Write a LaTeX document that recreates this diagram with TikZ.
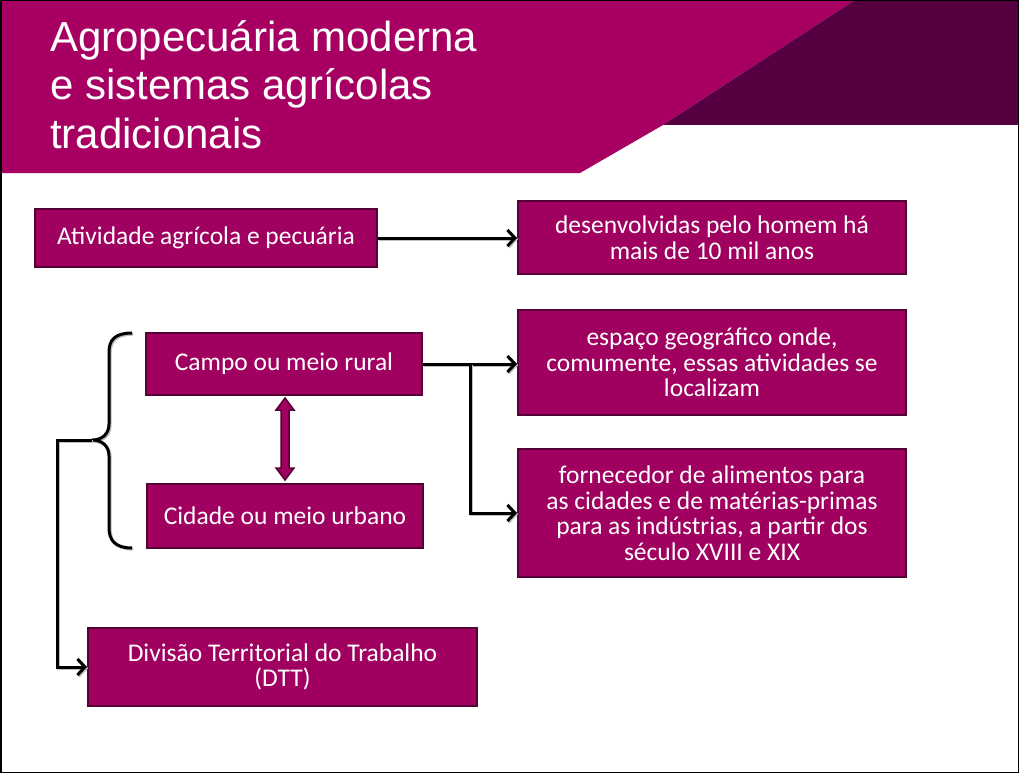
\documentclass[tikz,border=0pt]{standalone}
\usepackage{fontspec}
\setmainfont{Carlito}
\newfontfamily\titlefont{Liberation Sans}
\usetikzlibrary{arrows.meta,calc}
\definecolor{hdr}{RGB}{168,0,98}
\definecolor{hdrdark}{RGB}{86,0,66}
\definecolor{boxfill}{RGB}{160,0,96}
\definecolor{boxline}{RGB}{85,0,55}
\tikzset{
  box/.style={draw=boxline, line width=2pt, fill=boxfill, text=white, align=center,
    font=\fontsize{25.5}{25.5}\selectfont, inner sep=0pt},
  lineshadow/.style={preaction={draw=black!25, line width=3pt, transform canvas={shift={(1.2pt,-1.2pt)}}}},
  conn/.style={lineshadow, line width=3pt, -{Straight Barb[length=7.5pt,width=16pt]}},
  bracestyle/.style={lineshadow, line width=3pt},
  titletext/.style={text=white, font=\titlefont\fontsize{42}{48}\selectfont, anchor=base west, inner sep=0pt},
  dblarrow/.style={draw=boxline, line width=1.5pt, fill=boxfill, line join=miter}
}
\begin{document}
\begin{tikzpicture}[x=1pt,y=-1pt]
\useasboundingbox (0,0) rectangle (1019,773);
\fill[white] (0,0) rectangle (1019,773);
% header
\fill[hdr] (0,0) -- (855,0) -- (663,125) -- (580,173) -- (0,173) -- cycle;
\fill[hdrdark] (855,0) -- (1019,0) -- (1019,125) -- (663,125) -- cycle;
\node[titletext] (t1) at (50,52) {Agropecuária moderna};
\node[titletext] (t2) at (50,100) {e sistemas agrícolas};
\node[titletext] (t3) at (50,148) {tradicionais};

% connectors (drawn before boxes so ends tuck under borders)
\coordinate (ae) at (377,238);
\coordinate (dw) at (518,238);
\coordinate (ce) at (422,364);
\coordinate (ew) at (518,364);
\coordinate (br) at (470,364);
\coordinate (btip) at (92,440);
\coordinate (bl) at (57,440);

% boxes
\node[box, minimum width=342, minimum height=58] (ativ) at (206,238) {Atividade agrícola e pecuária};
\node[box, minimum width=388, minimum height=73] (desen) at (712,237.5) {desenvolvidas pelo homem há\\mais de 10 mil anos};
\node[box, minimum width=388, minimum height=105] (espaco) at (712,362.5) {espaço geográfico onde,\\comumente, essas atividades se\\localizam};
\node[box, minimum width=388, minimum height=128] (forn) at (712,513) {fornecedor de alimentos para\\as cidades e de matérias-primas\\para as indústrias, a partir dos\\século XVIII e XIX};
\node[box, minimum width=276, minimum height=62] (campo) at (284,364) {Campo ou meio rural};
\node[box, minimum width=276, minimum height=64] (cidade) at (285,516) {Cidade ou meio urbano};
\node[box, minimum width=389, minimum height=78] (dtt) at (282.5,667) {Divisão Territorial do Trabalho\\(DTT)};

\draw[conn] (ativ.east) -- (ativ.east -| desen.west);
\draw[conn] (campo.east) -- (campo.east -| espaco.west);
\draw[conn] (br) |- (forn.west);

% brace
\draw[bracestyle] (132,333) .. controls (115,333) and (109,340) .. (109,352) -- (109,424)
  .. controls (109,434) and (102,440) .. (btip)
  .. controls (102,440) and (109,446) .. (109,456) -- (109,528)
  .. controls (109,540) and (115,548) .. (132,548);
\draw[conn] (btip) -- (bl) |- (dtt.west);

% double arrow between campo and cidade
\draw[dblarrow] (285,398) -- (294,410) -- (289,410) -- (289,468) -- (294,468) -- (285,480)
  -- (276,468) -- (281,468) -- (281,410) -- (276,410) -- cycle;

% frame
\draw[line width=1.5pt] (0.75,0.75) rectangle (1018.25,772.25);
\end{tikzpicture}
\end{document}
